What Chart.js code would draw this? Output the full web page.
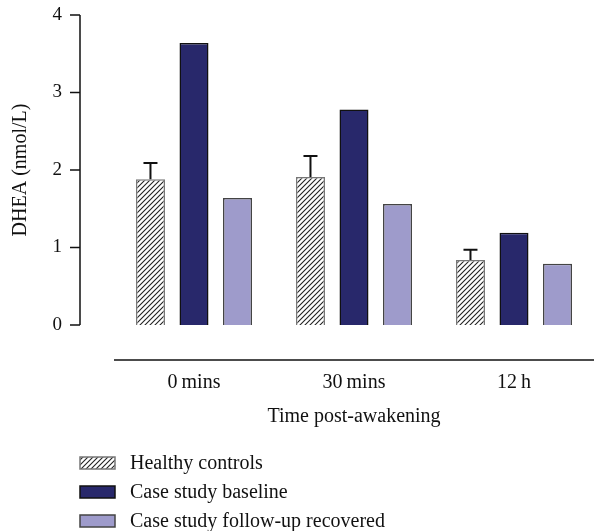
<!DOCTYPE html>
<html>
<head>
<meta charset="utf-8">
<script src="https://cdn.jsdelivr.net/npm/chart.js@4"></script>
<style>
  html, body { margin: 0; padding: 0; background: #fff; }
  #wrap { width: 594px; height: 531px; }
</style>
</head>
<body>
<div id="wrap"><canvas id="dhea"></canvas></div>
<script>
/* --------------- data --------------- */
var categories = ["0\u2009mins", "30\u2009mins", "12\u2009h"];
var seriesNames = ["Healthy controls", "Case study baseline", "Case study follow-up recovered"];
var healthy = [1.88, 1.91, 0.84];
var healthyErr = [0.21, 0.27, 0.13];   // upper error only
var baseline = [3.64, 2.78, 1.19];
var followUp = [1.64, 1.56, 0.79];
var yTicks = [0, 1, 2, 3, 4];

var serif = "'Liberation Serif', 'DejaVu Serif', serif";

/* --------------- hatch for healthy controls --------------- */
function makeHatch() {
  var c = document.createElement("canvas");
  c.width = 5; c.height = 5;
  var g = c.getContext("2d");
  g.fillStyle = "#fff";
  g.fillRect(0, 0, 5, 5);
  g.strokeStyle = "#222";
  g.lineWidth = 1.1;
  g.beginPath();
  g.moveTo(-1, 6); g.lineTo(6, -1);
  g.moveTo(-1, 1); g.lineTo(1, -1);
  g.moveTo(4, 6); g.lineTo(6, 4);
  g.stroke();
  return g.createPattern(c, "repeat");
}
var hatch = makeHatch();

/* --------------- custom axes, error bars, legend --------------- */
var decor = {
  id: "decor",
  afterDatasetsDraw: function (chart) {
    var ctx = chart.ctx;
    var y = chart.scales.y;
    var area = chart.chartArea;
    ctx.save();
    ctx.strokeStyle = "#111";
    ctx.lineWidth = 1.5;

    // y axis line, sits left of the plot
    var ax = 80;
    ctx.beginPath();
    ctx.moveTo(ax, y.getPixelForValue(4));
    ctx.lineTo(ax, y.getPixelForValue(0));
    yTicks.forEach(function (t) {
      ctx.moveTo(ax - 10, y.getPixelForValue(t));
      ctx.lineTo(ax, y.getPixelForValue(t));
    });
    ctx.stroke();

    // x axis line, below the plot
    ctx.beginPath();
    ctx.moveTo(area.left, 360);
    ctx.lineTo(chart.width, 360);
    ctx.stroke();

    // error bars on healthy controls
    var meta = chart.getDatasetMeta(0);
    ctx.lineWidth = 2;
    meta.data.forEach(function (bar, i) {
      var top = y.getPixelForValue(healthy[i] + healthyErr[i]);
      ctx.beginPath();
      ctx.moveTo(bar.x, bar.y);
      ctx.lineTo(bar.x, top);
      ctx.moveTo(bar.x - 7, top);
      ctx.lineTo(bar.x + 7, top);
      ctx.stroke();
    });

    // legend, one item per row
    ctx.font = "20px " + serif;
    ctx.textBaseline = "middle";
    ctx.textAlign = "left";
    chart.data.datasets.forEach(function (ds, i) {
      var cy = 463 + i * 29;
      ctx.fillStyle = ds.backgroundColor;
      ctx.fillRect(80, cy - 6, 35, 12);
      ctx.strokeStyle = ds.borderColor;
      ctx.lineWidth = 1.5;
      ctx.strokeRect(80, cy - 6, 35, 12);
      ctx.fillStyle = "#111";
      ctx.fillText(ds.label, 130, cy + 1);
    });
    ctx.restore();
  }
};

/* --------------- chart --------------- */
new Chart(document.getElementById("dhea"), {
  type: "bar",
  plugins: [decor],
  data: {
    labels: categories,
    datasets: [
      { label: seriesNames[0], data: healthy, backgroundColor: hatch, borderColor: "#777", borderWidth: 1.5 },
      { label: seriesNames[1], data: baseline, backgroundColor: "#28286b", borderColor: "#111", borderWidth: 1.5 },
      { label: seriesNames[2], data: followUp, backgroundColor: "#9e9bcb", borderColor: "#444", borderWidth: 1.5 }
    ]
  },
  options: {
    responsive: true,
    maintainAspectRatio: false,
    animation: false,
    layout: { padding: { top: 15, right: -3, left: 0, bottom: 102 } },
    datasets: { bar: { categoryPercentage: 0.816, barPercentage: 0.667 } },
    plugins: { legend: { display: false }, tooltip: { enabled: false } },
    scales: {
      x: {
        grid: { display: false },
        border: { display: false },
        afterFit: function (s) { s.height = 104; s.paddingLeft = 0; s.paddingRight = 0; },
        ticks: { padding: 38, color: "#111", font: { family: serif, size: 20 } },
        title: { display: true, text: "Time post-awakening", color: "#111", padding: { top: 0, bottom: 0 }, font: { family: serif, size: 20 } }
      },
      y: {
        min: 0,
        max: 4,
        grid: { display: false },
        border: { display: false },
        afterFit: function (s) { s.width = 114; s.paddingTop = 0; s.paddingBottom = 0; },
        ticks: { stepSize: 1, padding: 44, color: "#111", font: { family: serif, size: 19 } },
        title: { display: true, text: "DHEA (nmol/L)", color: "#111", padding: { top: 9, bottom: 0 }, font: { family: serif, size: 20 } }
      }
    }
  }
});
</script>
</body>
</html>
